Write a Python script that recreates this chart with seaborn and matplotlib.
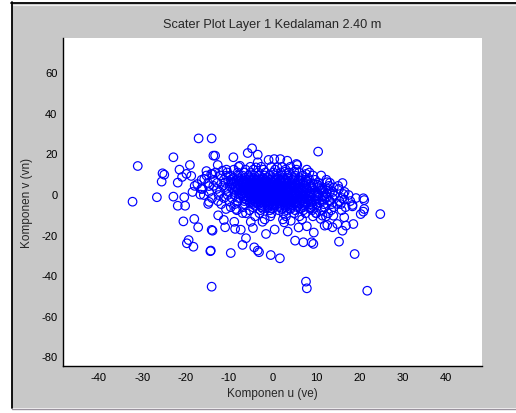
import seaborn as sns
import matplotlib.pyplot as plt
import pandas as pd
from matplotlib.patches import Rectangle
from matplotlib.lines import Line2D

# Titik-titik sebaran di luar inti
outer_u = [-32.2, -31.0, -26.6, -25.5, -25.3, -24.9, -22.8, -22.8, -21.8, -21.4, -20.8, -19.8,
           -18.7, -19.0, -20.3, -21.8, -20.1, -17.3, -15.7, -16.4, -14.6, -15.2, -14.1, -16.6,
           -14.6, -13.6, -17.0, -14.0, -20.5, -18.0, -17.1, -14.0, -19.3, -19.7, -18.2, -14.3,
           -14.0, -14.8, -4.7, -5.7, -3.4, -13.2, -9.0, -3.4, -0.9, 0.4, 1.8, 3.4, 5.5, -12.6,
           -7.5, 1.1, 2.9, 5.0, -3.8, -11.5, -13.8, -10.7, 10.5, 5.7, 16.1, 12.6, 20.9, 21.1,
           16.3, 16.5, 18.4, 14.9, 7.7, 8.4, 24.8, 20.9, 20.3, 18.4, 21.1, 18.6, 16.5, 16.9,
           16.1, 14.9, 13.8, 14.0, 12.3, 11.5, 12.6, 15.3, 18.9, 9.4, 9.0, 7.1, 5.2, 7.9, 7.7,
           7.9, 21.8, 10.0, 11.1, 12.0, -13.8, -14.2, -10.9, -8.8, -8.6, -7.3, -9.6, -6.1, -6.9,
           -4.2, -3.4, -3.1, -1.5, -0.4, 1.7, -5.0, -2.3, -10.7, -8.4, -6.9, 2.7, 4.2, -12.5,
           -11.2, -4.5, 0.5, 3.5, 6.0, 9.5, 11.5, 13.2, 12.4, 14.1, 10.3, 13.0]
outer_v = [-3.8, 13.8, -1.6, 6.1, 10.2, 9.5, 18.1, -1.3, 5.6, 12.0, 8.4, 9.9,
           8.9, 14.3, -1.6, -5.8, -5.8, 4.9, 7.4, 2.5, 3.9, 11.3, 9.9, -0.3,
           -3.9, 18.9, 27.4, 27.4, -13.5, -12.3, -16.4, -17.7, -22.7, -24.3, -26.0, -28.2,
           -45.7, -4.9, 22.5, 20.2, 19.4, 18.9, 18.1, 15.6, 16.8, 17.2, 17.2, 16.4, 14.8, 14.3,
           13.9, 13.1, 11.0, 11.0, 13.1, 11.5, 9.9, 9.0, 20.9, 14.3, 5.4, 5.8, -2.1, -7.4,
           0.0, -2.8, -5.4, -4.9, 9.9, 7.4, -9.9, -8.7, -9.9, -6.1, -3.0, -14.8, -11.5, -15.6,
           -18.1, -14.8, -16.4, -10.7, -11.0, -10.7, -15.3, -23.5, -29.6, -24.6, -23.8, -23.8, -23.0, -15.9, -43.2,
           -46.5, -47.7, -9.4, -12.3, -15.6, -18.1, -27.9, -16.4, -13.7, -17.2, -17.6, -29.1, -21.8, -25.1,
           -26.3, -27.9, -28.7, -19.7, -30.1, -31.7, -13.7, -13.7, -7.4, -7.4, -9.4, -14.0, -13.2, -10.5,
           -12.8, -16.8, -17.5, -18.5, -16.5, -19.0, 2.5, 1.0, -1.5, 3.2, 4.6, -3.1]

# Inti yang padat: tiap baris = (komponen v, daftar komponen u)
core_rows = [
    (13.4, [-7.8, -5.1, -2.6, -0.3, 2.2, 4.1]),
    (12.0, [-10.6, -8.9, -6.2, -4.4, -2.1, 0.6, 3.0, 5.5, 7.9]),
    (10.6, [-13.1, -10.4, -8.0, -6.6, -5.0, -3.3, -1.6, 0.2, 1.9, 3.8, 6.1, 8.5]),
    (9.1, [-15.2, -12.0, -9.7, -8.1, -6.9, -5.5, -4.2, -3.0, -1.8, -0.5, 0.9, 2.3, 3.6, 5.2, 7.0, 9.3, 11.2]),
    (7.8, [-9.1, -7.7, -6.4, -5.3, -4.3, -3.3, -2.3, -1.2, -0.1, 1.0, 2.2, 3.5, 4.9, 6.4]),
    (7.0, [-16.3, -13.5, -11.2, -9.6, -8.3, -7.1, -6.0, -4.9, -3.8, -2.7, -1.6, -0.4, 0.7, 1.9, 3.1, 4.5, 6.0, 7.6, 9.8, 12.4]),
    (6.3, [-10.2, -8.8, -7.6, -6.6, -5.7, -4.8, -3.9, -3.0, -2.1, -1.2, -0.2, 0.8, 1.8, 2.8, 3.9, 5.1, 6.4, 7.9]),
    (5.5, [-14.8, -12.7, -10.9, -9.4, -8.2, -7.0, -6.1, -5.2, -4.3, -3.4, -2.5, -1.6, -0.7, 0.3, 1.2, 2.2, 3.3, 4.4, 5.7, 7.1, 8.8, 10.6, 13.2]),
    (4.8, [-9.1, -7.9, -6.9, -6.0, -5.1, -4.2, -3.4, -2.6, -1.8, -1.0, -0.2, 0.6, 1.4, 2.3, 3.2, 4.2, 5.3, 6.5, 7.8, 9.4]),
    (4.0, [-17.9, -13.6, -11.4, -9.8, -8.5, -7.3, -6.3, -5.4, -4.6, -3.8, -3.0, -2.2, -1.4, -0.6, 0.2, 1.0, 1.9, 2.8, 3.8, 4.9, 6.1, 7.4, 8.9, 10.8, 13.0, 15.1]),
    (3.3, [-8.4, -7.3, -6.4, -5.5, -4.7, -3.9, -3.1, -2.3, -1.5, -0.8, 0.0, 0.8, 1.6, 2.4, 3.3, 4.2, 5.2, 6.3, 7.5, 8.9, 10.5]),
    (2.5, [-16.1, -12.8, -10.7, -9.1, -7.9, -6.8, -5.9, -5.0, -4.2, -3.4, -2.6, -1.9, -1.2, -0.5, 0.3, 1.0, 1.8, 2.6, 3.5, 4.4, 5.4, 6.5, 7.8, 9.2, 10.9, 12.8, 15.3]),
    (1.8, [-8.0, -6.9, -6.0, -5.2, -4.4, -3.6, -2.8, -2.1, -1.4, -0.7, 0.0, 0.7, 1.4, 2.2, 3.0, 3.9, 4.8, 5.8, 6.9, 8.1, 9.6, 11.3]),
    (1.0, [-18.4, -14.6, -12.1, -10.2, -8.8, -7.6, -6.5, -5.6, -4.8, -4.0, -3.2, -2.5, -1.8, -1.1, -0.4, 0.3, 1.0, 1.7, 2.5, 3.3, 4.2, 5.1, 6.1, 7.2, 8.5, 10.0, 11.7, 13.9, 16.6]),
    (0.3, [-7.1, -6.1, -5.2, -4.4, -3.6, -2.9, -2.2, -1.5, -0.8, -0.1, 0.6, 1.3, 2.0, 2.8, 3.6, 4.5, 5.4, 6.4, 7.5, 8.8, 10.4, 12.5]),
    (-0.5, [-15.8, -12.4, -10.3, -8.7, -7.4, -6.3, -5.3, -4.4, -3.6, -2.8, -2.1, -1.4, -0.7, 0.0, 0.7, 1.4, 2.1, 2.9, 3.7, 4.6, 5.5, 6.5, 7.6, 8.8, 10.3, 12.1, 14.2, 17.5]),
    (-1.2, [-6.8, -5.8, -4.9, -4.0, -3.2, -2.4, -1.7, -1.0, -0.3, 0.4, 1.1, 1.9, 2.7, 3.5, 4.4, 5.3, 6.3, 7.4, 8.6, 10.0, 11.6]),
    (-2.0, [-13.9, -11.2, -9.3, -7.8, -6.6, -5.5, -4.5, -3.6, -2.8, -2.0, -1.3, -0.6, 0.1, 0.8, 1.5, 2.3, 3.1, 3.9, 4.8, 5.7, 6.7, 7.8, 9.0, 10.4, 12.0, 13.8, 16.0, 19.2]),
    (-2.8, [-6.0, -4.8, -3.8, -2.9, -2.1, -1.3, -0.5, 0.3, 1.1, 1.9, 2.8, 3.7, 4.7, 5.8, 7.0, 8.3, 9.8, 11.4]),
    (-3.5, [-12.5, -9.9, -8.0, -6.5, -5.2, -4.1, -3.1, -2.2, -1.4, -0.6, 0.2, 1.0, 1.8, 2.6, 3.5, 4.4, 5.4, 6.4, 7.5, 8.7, 10.0, 11.5, 13.2, 15.4, 17.9]),
    (-4.3, [-5.2, -3.8, -2.6, -1.5, -0.5, 0.5, 1.5, 2.6, 3.7, 4.9, 6.2, 7.6, 9.1, 10.8]),
    (-5.0, [-11.8, -8.7, -6.4, -4.6, -3.2, -2.0, -0.9, 0.1, 1.1, 2.1, 3.1, 4.1, 5.2, 6.3, 7.5, 8.8, 10.2, 11.8, 13.6, 15.7]),
    (-5.8, [-4.0, -2.4, -1.0, 0.3, 1.6, 2.9, 4.3, 5.8, 7.4, 9.2]),
    (-6.5, [-9.6, -6.8, -4.5, -2.6, -1.0, 0.4, 1.7, 3.0, 4.3, 5.7, 7.1, 8.6, 10.2, 12.0, 14.1, 16.8]),
    (-7.3, [-2.2, 0.0, 2.1, 4.2, 6.4, 8.7]),
    (-8.0, [-8.2, -5.3, -2.8, -0.6, 1.4, 3.3, 5.2, 7.1, 9.1, 11.3, 13.5, 15.9]),
    (-9.5, [-6.1, -3.0, -0.2, 2.5, 5.0, 7.6, 10.1, 12.8]),
    (-11.0, [-4.0, -0.5, 3.1, 6.2, 9.3]),
    (-12.5, [-1.8, 2.4, 6.8]),
]

x_ticks = [-40, -30, -20, -10, 0, 10, 20, 30, 40]
y_ticks = [-80, -60, -40, -20, 0, 20, 40, 60]

core_u = [u for v, us in core_rows for u in us]
core_v = [v for v, us in core_rows for u in us]
df = pd.DataFrame({'u': core_u + outer_u, 'v': core_v + outer_v})

sns.set_style('white')
plt.rcParams['font.family'] = ['Liberation Sans', 'DejaVu Sans']
plt.rcParams['axes.unicode_minus'] = False

fig = plt.figure(figsize=(5.16, 4.14), dpi=100, facecolor='white')

# Panel abu-abu seperti jendela MATLAB (di belakang axes)
fig.patches.append(Rectangle((12 / 516, 5 / 414), 1, 1 - 9 / 414, transform=fig.transFigure,
                             facecolor='#c8c8c8', edgecolor='none', zorder=-10))
fig.lines.append(Line2D([11.5 / 516, 11.5 / 516], [5 / 414, 1 - 3 / 414], transform=fig.transFigure,
                        color='black', lw=1.3, zorder=-5))
fig.lines.append(Line2D([11 / 516, 1], [1 - 3.5 / 414, 1 - 3.5 / 414], transform=fig.transFigure,
                        color='black', lw=1.3, zorder=-5))
fig.lines.append(Line2D([13 / 516, 1], [1 - 5.5 / 414, 1 - 5.5 / 414], transform=fig.transFigure,
                        color='#f0f0f0', lw=0.8, zorder=-5))
fig.lines.append(Line2D([12 / 516, 1], [4.5 / 414, 4.5 / 414], transform=fig.transFigure,
                        color='#9a929e', lw=1, zorder=-5))

ax = fig.add_axes([63 / 516, 47 / 414, 419 / 516, 328 / 414])
ax.set_facecolor('white')

sns.scatterplot(data=df, x='u', y='v', ax=ax, marker='o', s=38, color='blue',
                facecolors='none', edgecolor='blue', linewidth=0.85, legend=False)

ax.set_xlim(-48.2, 48.2)
ax.set_ylim(-84.8, 76.9)
ax.set_xticks(x_ticks)
ax.set_yticks(y_ticks)
ax.set_xlabel('')
ax.set_ylabel('')
ax.tick_params(direction='in', length=4, width=0.8, labelsize=8, colors='black', pad=4)
for side in ['top', 'right']:
    ax.spines[side].set_visible(False)
for side in ['left', 'bottom']:
    ax.spines[side].set_color('black')
    ax.spines[side].set_linewidth(1)

fig.text(272 / 516, 1 - 25 / 414, 'Scater Plot Layer 1 Kedalaman 2.40 m', ha='center', va='center', fontsize=9.2)
fig.text(272 / 516, 1 - 394 / 414, 'Komponen u (ve)', ha='center', va='center', fontsize=8.5)
fig.text(27 / 516, 1 - 203 / 414, 'Komponen v (vn)', ha='center', va='center', rotation=90, fontsize=8.5)

fig.savefig('out.png', dpi=100, facecolor=fig.get_facecolor())
